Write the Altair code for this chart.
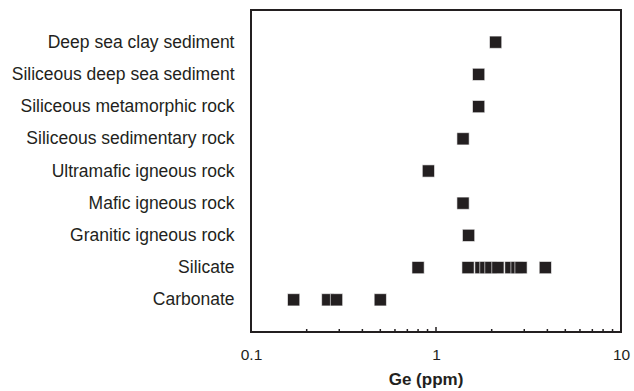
import altair as alt
import pandas as pd

categories = [
    "Deep sea clay sediment",
    "Siliceous deep sea sediment",
    "Siliceous metamorphic rock",
    "Siliceous sedimentary rock",
    "Ultramafic igneous rock",
    "Mafic igneous rock",
    "Granitic igneous rock",
    "Silicate",
    "Carbonate",
]

ge_values = [
    [2.1],
    [1.7],
    [1.7],
    [1.4],
    [0.91],
    [1.4],
    [1.5],
    [0.8, 1.49, 1.75, 1.86, 1.98, 2.16, 2.54, 2.74, 2.88, 3.9],
    [0.17, 0.26, 0.29, 0.5],
]

minor_ticks = [0.2, 0.3, 0.4, 0.5, 0.6, 0.7, 0.8, 0.9, 2, 3, 4, 5, 6, 7, 8, 9]
major_ticks = [1]
axis_labels = [0.1, 1, 10]

rows = []
for cat, vals in zip(categories, ge_values):
    for v in vals:
        rows.append({"category": cat, "ge": v})
df = pd.DataFrame(rows)

minor_df = pd.DataFrame({"t": minor_ticks})
major_df = pd.DataFrame({"t": major_ticks})

DARK = "#231f20"
H = 322

xscale = alt.Scale(type="log", domain=[0.1, 10], nice=False)

points = alt.Chart(df).mark_square(
    size=150, color=DARK, opacity=1, filled=True, stroke="white", strokeWidth=0.6
).encode(
    x=alt.X(
        "ge:Q",
        scale=xscale,
        axis=alt.Axis(
            values=axis_labels,
            format="~g",
            title="Ge (ppm)",
            titleFontWeight="bold",
            titleFontSize=17,
            titleFont="Liberation Sans",
            titleColor=DARK,
            titleBaseline="top",
            titleX=174.5,
            titleY=39,
            labelFont="Liberation Sans",
            labelFontSize=15.5,
            labelColor=DARK,
            labelPadding=15,
            labelFlush=False,
            ticks=False,
            tickSize=0,
            domain=False,
            grid=False,
        ),
    ),
    y=alt.Y(
        "category:N",
        sort=categories,
        scale=alt.Scale(type="point", padding=1),
        axis=alt.Axis(
            title=None,
            labelFont="Liberation Sans",
            labelFontSize=17.5,
            labelColor=DARK,
            labelPadding=17,
            labelLimit=400,
            ticks=False,
            tickSize=0,
            domain=False,
            grid=False,
        ),
    ),
)

minor_rules = alt.Chart(minor_df).mark_rule(color=DARK, strokeWidth=1.5).encode(
    x=alt.X("t:Q", scale=xscale),
    y=alt.value(H),
    y2=alt.value(H - 3),
)

major_rules = alt.Chart(major_df).mark_rule(color=DARK, strokeWidth=1.5).encode(
    x=alt.X("t:Q", scale=xscale),
    y=alt.value(H),
    y2=alt.value(H - 5),
)

chart = alt.layer(minor_rules, major_rules, points).properties(
    width=370,
    height=H,
    background="white",
    autosize=alt.AutoSizeParams(type="none"),
    padding={"left": 251, "top": 10, "right": 13, "bottom": 59},
).configure_view(stroke=DARK, strokeWidth=2)

chart.save("out.html", embed_options={"renderer": "svg", "actions": False})
